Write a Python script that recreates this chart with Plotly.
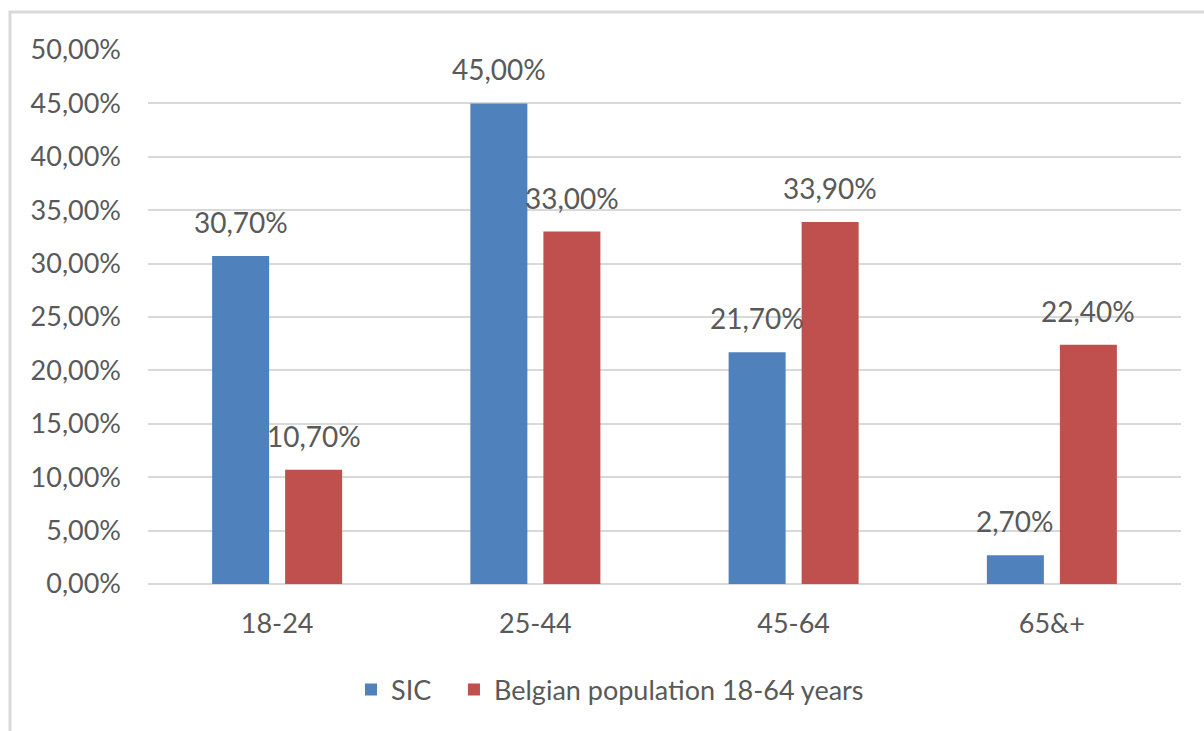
import plotly.graph_objects as go

categories = ["18-24", "25-44", "45-64", "65&+"]
sic_values = [0.307, 0.45, 0.217, 0.027]
belgian_values = [0.107, 0.33, 0.339, 0.224]
series_names = ["SIC", "Belgian population 18-64 years"]
tick_values = [i * 0.05 for i in range(11)]

BLUE = "#4f81bd"
RED = "#c0504d"
TEXT = "#595959"
GRID = "#d9d9d9"
FONT = "Lato"

# bar geometry in category units (one category = 1.0)
BAR_W = 0.2207
GAP = 0.062
offsets = [-(BAR_W + GAP / 2), GAP / 2]


def fmt(v):
    return f"{v*100:.2f}%".replace(".", ",")


fig = go.Figure()
annotations = []
for name, vals, col, off, leg in [(series_names[0], sic_values, BLUE, offsets[0], "legend"),
                                  (series_names[1], belgian_values, RED, offsets[1], "legend2")]:
    fig.add_trace(go.Bar(
        name=name, x=list(range(len(categories))), y=vals,
        width=BAR_W, offset=off, legend=leg,
        marker=dict(color=col, line=dict(width=0)),
    ))
    for i, v in enumerate(vals):
        annotations.append(dict(
            x=i + off + BAR_W / 2, y=v, xref="x", yref="y",
            text=fmt(v), showarrow=False, yanchor="bottom", yshift=15,
            font=dict(family=FONT, size=28, color=TEXT),
        ))

legend_style = dict(orientation="h", y=-0.1985, xanchor="left", yanchor="middle",
                    font=dict(family=FONT, size=27, color=TEXT),
                    bgcolor="rgba(0,0,0,0)", itemwidth=30)

fig.update_layout(
    width=1204, height=731,
    margin=dict(l=148, r=23, t=50, b=147),
    paper_bgcolor="white", plot_bgcolor="white",
    barmode="overlay",
    separators=",.",
    font=dict(family=FONT, size=27, color=TEXT),
    showlegend=True,
    legend=dict(x=0.1965, **legend_style),
    legend2=dict(x=0.2962, **legend_style),
    xaxis=dict(showgrid=False, showline=False, ticks="", ticklabelstandoff=21,
               range=[-0.5, len(categories) - 0.5],
               tickvals=list(range(len(categories))), ticktext=categories,
               tickfont=dict(family=FONT, size=27, color=TEXT)),
    yaxis=dict(range=[0, 0.5], tickvals=tick_values, tickformat=".2%",
               showgrid=True, gridcolor=GRID, gridwidth=1.5,
               zeroline=True, zerolinecolor=GRID, zerolinewidth=1.5,
               showline=False, ticks="", ticklabelstandoff=26,
               tickfont=dict(family=FONT, size=27, color=TEXT)),
    annotations=annotations,
    shapes=[dict(type="rect", xref="paper", yref="paper",
                 x0=-0.1336, x1=1.2, y0=-0.5, y1=1.0712,
                 line=dict(color=GRID, width=3), fillcolor="rgba(0,0,0,0)", layer="below")],
)

fig.write_html("out.html")
